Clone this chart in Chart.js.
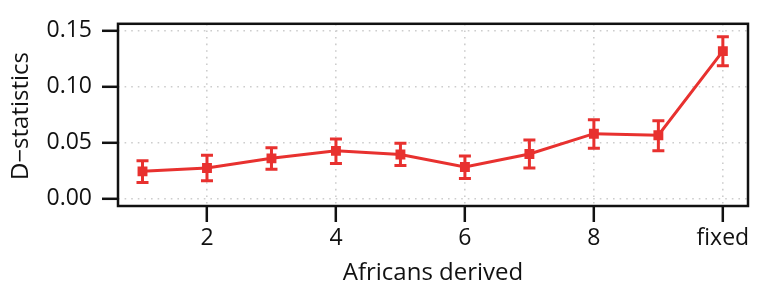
<!DOCTYPE html>
<html>
<head>
<meta charset="utf-8">
<script src="https://cdn.jsdelivr.net/npm/chart.js@4.4.1/dist/chart.umd.min.js"></script>
<style>
  html, body { margin: 0; padding: 0; background: #fff; }
  #wrap { width: 760px; height: 291px; }
</style>
</head>
<body>
<div id="wrap"><canvas id="dstat" width="760" height="291"></canvas></div>
<script>
// data
const categories = ["1", "2", "3", "4", "5", "6", "7", "8", "9", "fixed"];
const dValues = [0.0242, 0.0272, 0.0358, 0.0425, 0.0392, 0.0281, 0.0397, 0.0578, 0.0564, 0.1314];
const dLower  = [0.0142, 0.0158, 0.0261, 0.0311, 0.0294, 0.0178, 0.0272, 0.0447, 0.0425, 0.1183];
const dUpper  = [0.0336, 0.0386, 0.0453, 0.0531, 0.0492, 0.0378, 0.0522, 0.0703, 0.0694, 0.1442];
const xTicks = [2, 4, 6, 8, 10];
const yTicks = [0, 0.05, 0.10, 0.15];

const red = "#e8312f";
const font = "'Open Sans', 'Noto Sans', sans-serif";

// error bars, frame box and the rotated y title
const extras = {
  id: "extras",
  beforeDatasetsDraw(chart) {
    const ctx = chart.ctx;
    const xs = chart.scales.x, ys = chart.scales.y;
    ctx.save();
    ctx.strokeStyle = red;
    ctx.lineWidth = 3;
    dValues.forEach((v, i) => {
      const px = xs.getPixelForValue(i + 1);
      const lo = ys.getPixelForValue(dLower[i]);
      const hi = ys.getPixelForValue(dUpper[i]);
      ctx.beginPath();
      ctx.moveTo(px, lo); ctx.lineTo(px, hi);
      ctx.moveTo(px - 6, lo); ctx.lineTo(px + 6, lo);
      ctx.moveTo(px - 6, hi); ctx.lineTo(px + 6, hi);
      ctx.stroke();
    });
    ctx.restore();
  },
  afterDraw(chart) {
    const a = chart.chartArea, ctx = chart.ctx;
    ctx.save();
    ctx.strokeStyle = "#111";
    ctx.lineWidth = 2.5;
    ctx.strokeRect(a.left, a.top, a.right - a.left, a.bottom - a.top);
    ctx.translate(21, 116);
    ctx.rotate(-Math.PI / 2);
    ctx.fillStyle = "#111";
    ctx.font = "24px " + font;
    ctx.textAlign = "center";
    ctx.textBaseline = "middle";
    ctx.fillText("D\u2212statistics", 0, 0);
    ctx.restore();
  }
};

new Chart(document.getElementById("dstat").getContext("2d"), {
  type: "line",
  data: {
    datasets: [{
      data: dValues.map((v, i) => ({ x: i + 1, y: v })),
      borderColor: red,
      backgroundColor: red,
      borderWidth: 3,
      pointStyle: "rect",
      pointRadius: 7,
      pointBorderWidth: 0,
      tension: 0
    }]
  },
  options: {
    responsive: false,
    animation: false,
    events: [],
    layout: { padding: { top: 11, right: 12, left: 0, bottom: 0 } },
    plugins: { legend: { display: false }, tooltip: { enabled: false } },
    scales: {
      x: {
        type: "linear",
        min: 0.62,
        max: 10.39,
        afterBuildTicks: (s) => { s.ticks = xTicks.map(v => ({ value: v })); },
        afterFit: (s) => { s.height = 85; },
        grid: { color: "#cdcdcd", lineWidth: 1.6, tickColor: "#111", tickWidth: 2.5, tickLength: 16 },
        border: { display: false, dash: [1.6, 5] },
        ticks: {
          color: "#111",
          padding: 3,
          maxRotation: 0,
          font: { family: font, size: 23 },
          callback: (v) => categories[v - 1]
        },
        title: {
          display: true,
          text: "Africans derived",
          color: "#111",
          font: { family: font, size: 24 },
          padding: { top: 0, bottom: 3 }
        }
      },
      y: {
        min: -0.0067,
        max: 0.1558,
        afterBuildTicks: (s) => { s.ticks = yTicks.map(v => ({ value: v })); },
        afterFit: (s) => { s.width = 118; },
        grid: { color: "#cdcdcd", lineWidth: 1.6, tickColor: "#111", tickWidth: 2.5, tickLength: 16 },
        border: { display: false, dash: [1.6, 5] },
        ticks: {
          color: "#111",
          padding: 10,
          font: { family: font, size: 23 },
          callback: (v) => v.toFixed(2)
        }
      }
    }
  },
  plugins: [extras]
});
</script>
</body>
</html>
